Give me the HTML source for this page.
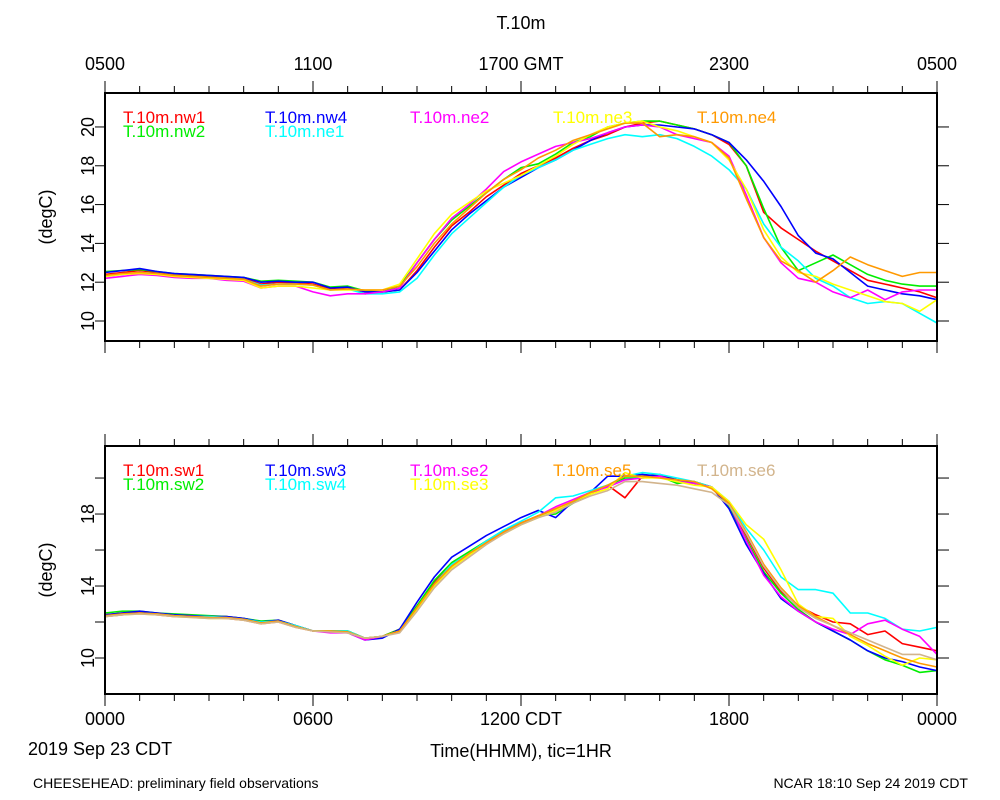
<!DOCTYPE html>
<html><head><meta charset="utf-8"><style>
html,body{margin:0;padding:0;background:#fff;}
svg{display:block;font-family:"Liberation Sans",sans-serif;}
</style></head><body>
<svg id="chart" width="1000" height="800" viewBox="0 0 1000 800">
<text x="521" y="29" font-size="18" text-anchor="middle">T.10m</text>
<text x="521" y="770" font-size="18" text-anchor="middle" transform="translate(0,-13)">Time(HHMM), tic=1HR</text>
<text x="28" y="755" font-size="18">2019 Sep 23 CDT</text>
<text x="33" y="788" font-size="14">CHEESEHEAD: preliminary field observations</text>
<text x="968" y="788" font-size="14" text-anchor="end">NCAR 18:10 Sep 24 2019 CDT</text>
<g id="top"></g><g id="bot"></g>
</svg>
<script>
const hours = [0,0.5,1,1.5,2,2.5,3,3.5,4,4.5,5,5.5,6,6.5,7,7.5,8,8.5,9,9.5,10,10.5,11,11.5,12,12.5,13,13.5,14,14.5,15,15.5,16,16.5,17,17.5,18,18.5,19,19.5,20,20.5,21,21.5,22,22.5,23,23.5,24];
const topNames = ["T.10m.nw1","T.10m.nw2","T.10m.nw4","T.10m.ne1","T.10m.ne2","T.10m.ne3","T.10m.ne4"];
const topColors = ["#ff0000","#00ee00","#0000ff","#00ffff","#ff00ff","#ffff00","#ff9900"];
const nw1 = [12.4,12.5,12.6,12.5,12.4,12.35,12.3,12.25,12.2,11.9,12.0,11.95,11.9,11.65,11.7,11.4,11.5,11.6,12.6,13.8,14.9,15.6,16.4,17.0,17.6,18.0,18.4,18.9,19.3,19.6,20.0,20.2,20.3,20.1,19.9,19.6,19.1,18.0,15.6,14.8,14.2,13.6,13.1,12.6,12.1,11.9,11.7,11.5,11.2];
const nw2 = [12.55,12.6,12.65,12.55,12.45,12.4,12.35,12.3,12.25,12.05,12.1,12.05,12.0,11.75,11.8,11.55,11.5,11.8,13.0,14.2,15.2,15.9,16.6,17.3,17.9,18.1,18.6,19.2,19.5,20.0,20.2,20.3,20.3,20.1,19.9,19.6,19.2,18.0,15.8,13.8,12.6,13.0,13.4,12.9,12.4,12.1,11.9,11.8,11.8];
const nw4 = [12.5,12.6,12.7,12.55,12.45,12.4,12.35,12.3,12.25,12.0,12.05,12.0,12.0,11.7,11.75,11.5,11.5,11.6,12.5,13.6,14.7,15.5,16.2,16.9,17.4,17.9,18.3,18.8,19.3,19.7,20.0,20.1,20.1,20.0,19.9,19.6,19.2,18.3,17.2,15.9,14.4,13.5,13.2,12.5,11.8,11.6,11.4,11.3,11.1];
const ne1 = [12.3,12.4,12.5,12.45,12.35,12.3,12.25,12.2,12.15,11.85,11.9,11.9,11.85,11.6,11.65,11.4,11.4,11.5,12.2,13.4,14.5,15.3,16.1,16.9,17.5,17.9,18.3,18.8,19.1,19.4,19.6,19.5,19.6,19.4,19.0,18.5,17.8,16.8,15.0,13.8,13.1,12.2,11.8,11.2,10.9,11.0,10.9,10.4,9.9];
const ne2 = [12.2,12.3,12.4,12.35,12.25,12.2,12.2,12.1,12.05,11.7,11.8,11.8,11.5,11.3,11.4,11.4,11.5,11.7,13.0,14.2,15.3,16.0,16.8,17.7,18.2,18.6,19.0,19.2,19.4,19.7,20.0,20.1,20.0,19.6,19.4,19.2,18.5,16.5,14.3,13.0,12.2,12.0,11.5,11.2,11.6,11.1,11.5,11.6,11.6];
const ne3 = [12.3,12.4,12.45,12.4,12.3,12.25,12.2,12.15,12.1,11.7,11.8,11.8,11.7,11.6,11.6,11.6,11.6,11.9,13.2,14.5,15.5,16.1,16.7,17.1,17.5,18.0,18.5,19.1,19.6,20.0,20.2,20.3,20.0,19.8,19.5,19.2,18.3,16.8,14.7,13.3,12.5,12.3,11.9,11.6,11.3,11.0,10.9,10.5,11.1];
const ne4 = [12.35,12.45,12.5,12.45,12.35,12.3,12.25,12.2,12.15,11.8,11.9,11.9,11.85,11.6,11.65,11.6,11.6,11.8,12.8,14.0,15.0,15.8,16.6,17.3,17.8,18.4,18.8,19.3,19.6,19.9,20.2,20.2,19.5,19.6,19.5,19.2,18.4,16.3,14.3,13.1,12.6,12.0,12.6,13.3,12.9,12.6,12.3,12.5,12.5];
const topSeries = [nw1,nw2,nw4,ne1,ne2,ne3,ne4];

const botNames = ["T.10m.sw1","T.10m.sw2","T.10m.sw3","T.10m.sw4","T.10m.se2","T.10m.se3","T.10m.se5","T.10m.se6"];
const botColors = ["#ff0000","#00ee00","#0000ff","#00ffff","#ff00ff","#ffff00","#ff9900","#d2b48c"];
const sw1 = [12.4,12.5,12.55,12.5,12.4,12.35,12.3,12.3,12.2,12.0,12.1,11.8,11.5,11.5,11.5,11.1,11.2,11.6,12.9,14.2,15.2,15.8,16.5,17.0,17.5,17.9,18.2,18.6,19.1,19.6,18.9,20.1,20.2,19.9,19.8,19.5,18.5,16.8,15.0,13.7,12.9,12.4,12.0,11.9,11.3,11.5,10.8,10.6,10.4];
const sw2 = [12.5,12.6,12.6,12.5,12.45,12.4,12.35,12.3,12.2,12.05,12.1,11.8,11.5,11.5,11.5,11.1,11.2,11.6,12.9,14.3,15.3,15.9,16.5,17.1,17.5,17.9,18.0,18.6,19.2,19.6,20.0,20.0,20.1,19.7,19.8,19.5,18.4,16.6,14.8,13.6,12.7,12.0,11.5,11.0,10.4,9.9,9.6,9.2,9.3];
const sw3 = [12.4,12.5,12.6,12.5,12.4,12.35,12.3,12.3,12.2,12.0,12.1,11.8,11.5,11.5,11.4,11.0,11.1,11.6,13.1,14.5,15.6,16.2,16.8,17.3,17.8,18.2,17.8,18.7,19.2,20.1,20.1,20.2,20.1,19.9,19.7,19.5,18.3,16.3,14.7,13.3,12.6,12.0,11.5,11.0,10.4,10.0,9.8,9.5,9.3];
const sw4 = [12.3,12.4,12.5,12.45,12.35,12.3,12.3,12.25,12.15,12.0,12.05,11.8,11.5,11.5,11.5,11.1,11.2,11.5,12.8,14.1,15.2,15.8,16.5,17.1,17.6,18.1,18.9,19.0,19.3,19.6,20.1,20.3,20.2,20.0,19.8,19.5,18.7,17.2,16.0,14.5,13.8,13.8,13.6,12.5,12.5,12.2,11.6,11.5,11.7];
const se2 = [12.3,12.4,12.5,12.4,12.3,12.3,12.25,12.2,12.1,11.9,12.0,11.7,11.5,11.4,11.4,11.0,11.2,11.5,12.7,14.0,15.0,15.7,16.4,17.0,17.5,17.9,18.4,18.8,19.2,19.5,19.9,20.0,20.1,19.8,19.7,19.5,18.6,16.5,14.6,13.4,12.6,12.0,11.6,11.3,11.9,12.1,11.6,11.2,10.2];
const se3 = [12.3,12.4,12.45,12.4,12.3,12.25,12.2,12.2,12.1,11.9,12.0,11.7,11.5,11.5,11.4,11.1,11.2,11.5,12.7,14.0,15.0,15.7,16.4,16.9,17.4,17.8,18.2,18.7,19.1,19.4,20.3,20.0,20.0,19.8,19.6,19.5,18.7,17.4,16.6,14.9,13.0,12.3,12.2,11.2,10.7,10.1,9.6,10.0,9.9];
const se5 = [12.35,12.45,12.5,12.45,12.35,12.3,12.25,12.25,12.15,11.95,12.05,11.75,11.5,11.5,11.45,11.1,11.2,11.5,12.8,14.1,15.1,15.8,16.4,17.0,17.5,17.9,18.3,18.7,19.2,19.6,20.1,20.1,20.0,19.9,19.8,19.4,18.6,17.0,15.2,13.9,12.9,12.3,11.8,11.3,10.8,10.4,10.0,9.7,9.5];
const se6 = [12.3,12.4,12.45,12.4,12.3,12.25,12.2,12.2,12.1,11.9,12.0,11.7,11.5,11.45,11.4,11.1,11.2,11.4,12.6,13.9,14.9,15.6,16.3,16.9,17.4,17.8,18.1,18.6,19.0,19.3,19.8,19.8,19.7,19.6,19.4,19.2,18.5,16.9,15.1,13.8,12.8,12.2,11.8,11.4,11.0,10.6,10.2,10.2,9.9];
const botSeries = [sw1,sw2,sw3,sw4,se2,se3,se5,se6];

const topYTicks = [10,12,14,16,18,20];
const botYTicks = [10,12,14,16,18,20];
const botYLabels = [10,14,18];
const bottomXLabels = ["0000","0600","1200 CDT","1800","0000"];
const topXLabels = ["0500","1100","1700 GMT","2300","0500"];

const NS = "http://www.w3.org/2000/svg";
const X0 = 105, X1 = 937;
const xs = h => X0 + (X1 - X0) * h / 24;
function mk(parent, tag, attrs) {
  const e = document.createElementNS(NS, tag);
  for (const k in attrs) e.setAttribute(k, attrs[k]);
  parent.appendChild(e);
  return e;
}
function panel(g, y0, y1, ymin, ymax, names, colors, series, leftLabels, withTopLabels, withBottomLabels, pname) {
  const ys = v => y1 - (y1 - y0) * (v - ymin) / (ymax - ymin);
  // series
  series.forEach((s, i) => {
    const d = s.map((v, j) => (j ? "L" : "M") + xs(hours[j]).toFixed(1) + " " + ys(v).toFixed(1)).join(" ");
    const p = mk(g, "path", {d: d, fill: "none", stroke: colors[i], "stroke-width": 1.6, "stroke-linejoin": "round"});
    
    
  });
  // frame
  const fr = mk(g, "rect", {x: X0, y: y0, width: X1 - X0, height: y1 - y0, fill: "none", stroke: "#000", "stroke-width": 2});
  
  
  // x ticks
  for (let h = 0; h <= 24; h++) {
    const len = h % 6 === 0 ? 12 : 7;
    const x = xs(h);
    const t1 = mk(g, "line", {x1: x, x2: x, y1: y1, y2: y1 + len, stroke: "#000", "stroke-width": 1});
    
    
    const t2 = mk(g, "line", {x1: x, x2: x, y1: y0, y2: y0 - len, stroke: "#000", "stroke-width": 1});
    
    
  }
  // y ticks
  const yt = pname === 'top-panel' ? topYTicks : botYTicks;
  yt.forEach(v => {
    if (v < ymin || v > ymax) return;
    const y = ys(v);
    const a = mk(g, "line", {x1: X0 - 10, x2: X0, y1: y, y2: y, stroke: "#000", "stroke-width": 1});
    
    
    const b = mk(g, "line", {x1: X1, x2: X1 + 12, y1: y, y2: y, stroke: "#000", "stroke-width": 1});
    
    
  });
  leftLabels.forEach(v => {
    const y = ys(v);
    const t = mk(g, "text", {x: 0, y: 0, "font-size": 18, "text-anchor": "middle", transform: `translate(94 ${y}) rotate(-90)`});
    t.textContent = v;
    
    
  });
  const yl = mk(g, "text", {x: 0, y: 0, "font-size": 18, "text-anchor": "middle", transform: `translate(52 ${(y0 + y1) / 2}) rotate(-90)`});
  yl.textContent = "(degC)";
  
  
  if (withTopLabels) {
    topXLabels.forEach((s, i) => {
      const t = mk(g, "text", {x: xs(i * 6), y: 70, "font-size": 18, "text-anchor": "middle"});
      t.textContent = s;
      
      
    });
  }
  if (withBottomLabels) {
    bottomXLabels.forEach((s, i) => {
      const t = mk(g, "text", {x: xs(i * 6), y: 725, "font-size": 18, "text-anchor": "middle"});
      t.textContent = s;
      
      
    });
  }
  // legend
  const lx = [123, 265, 410, 553, 697];
  names.forEach((n, i) => {
    const col = i < 2 ? 0 : i < 4 ? 1 : i - 2;
    let cx, row;
    if (names.length === 7) {
      const pos = [[0,0],[0,1],[1,0],[1,1],[2,0],[3,0],[4,0]][i];
      cx = lx[pos[0]]; row = pos[1];
    } else {
      const pos = [[0,0],[0,1],[1,0],[1,1],[2,0],[2,1],[3,0],[4,0]][i];
      cx = lx[pos[0]]; row = pos[1];
    }
    const t = mk(g, "text", {x: cx, y: y0 + 30 + row * 14, "font-size": 17, fill: colors[i]});
    t.textContent = n;
    
    
  });
}
const gt = document.getElementById('top');


const gb = document.getElementById('bot');


panel(gt, 93, 341, 8.97, 21.75, topNames, topColors, topSeries, topYTicks, true, false, 'top-panel');
panel(gb, 446, 694, 8.0, 21.78, botNames, botColors, botSeries, botYLabels, false, true, 'bottom-panel');
</script>
</body></html>
